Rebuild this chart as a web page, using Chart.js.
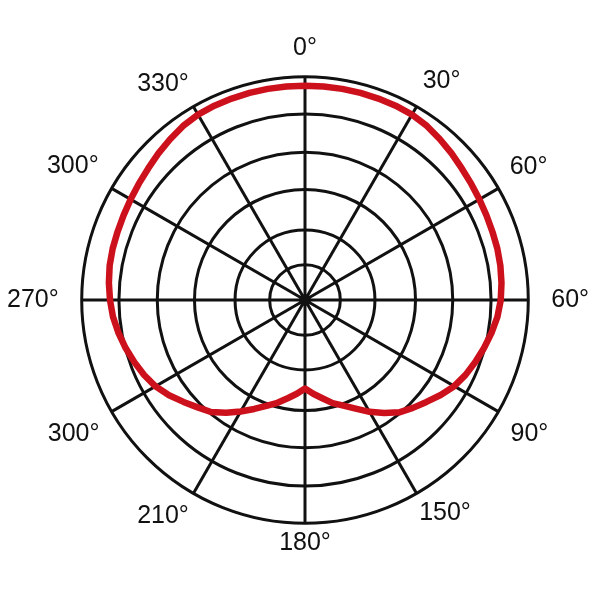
<!DOCTYPE html>
<html>
<head>
<meta charset="utf-8">
<style>
  html, body { margin: 0; padding: 0; background: #ffffff; }
  #wrap { width: 600px; height: 600px; }
</style>
<script src="https://cdn.jsdelivr.net/npm/chart.js@4.4.1/dist/chart.umd.min.js"></script>
</head>
<body>
<div id="wrap"><canvas id="c" width="600" height="600"></canvas></div>
<script>
// Angle categories (degrees, clockwise from top)
const ANGLES = [0,5,10,15,20,25,30,35,40,45,50,55,60,65,70,75,80,85,90,95,100,105,110,115,
  120,125,130,135,140,145,150,155,160,165,170,175,180,185,190,195,200,205,210,215,220,225,230,235,
  240,245,250,255,260,265,270,275,280,285,290,295,300,305,310,315,320,325,330,335,340,345,350,355];

// Polar response (radius in ring units, 6 = outer ring)
const RESPONSE = [5.76,5.76,5.76,5.76,5.76,5.76,5.75,5.71,5.64,5.57,5.50,5.45,5.41,5.38,5.36,5.35,5.33,5.30,
  5.26,5.19,5.09,4.98,4.87,4.76,4.63,4.45,4.26,4.10,3.94,3.71,3.47,3.22,3.02,2.87,2.68,2.53,
  2.38,2.53,2.68,2.86,3.03,3.23,3.46,3.70,3.93,4.08,4.26,4.46,4.64,4.77,4.88,4.99,5.09,5.18,
  5.24,5.29,5.33,5.35,5.36,5.38,5.41,5.45,5.50,5.57,5.64,5.71,5.75,5.76,5.76,5.76,5.76,5.76];

// Tick labels shown every 30 degrees (as printed on the original)
const TICK_LABELS = ["0°","30°","60°","60°","90°","150°","180°","210°","300°","270°","300°","330°"];

// Concentric ring positions
const RING_VALUES = [0, 0.95, 1.88, 2.97, 3.97, 5, 6];

// Center hub
const HUB = ANGLES.map(() => 0);

// Label distances from the outer ring, per tick label
const LABEL_PADS = [14, 12, 13, 23, 14, 5, 5, 9, 14, 23, 15, 9];

const ctx = document.getElementById('c').getContext('2d');
new Chart(ctx, {
  type: 'radar',
  data: {
    labels: ANGLES.map(a => a + '°'),
    datasets: [
      {
        data: RESPONSE,
        borderColor: '#cc111c',
        borderWidth: 6.5,
        borderJoinStyle: 'round',
        backgroundColor: 'rgba(0,0,0,0)',
        fill: false,
        tension: 0,
        pointRadius: 0,
        pointHoverRadius: 0
      },
      {
        data: HUB,
        showLine: false,
        borderWidth: 0,
        fill: false,
        pointRadius: (c) => c.dataIndex === 0 ? 6 : 0,
        pointBackgroundColor: '#111111',
        pointBorderWidth: 0,
        pointHoverRadius: 0
      }
    ]
  },
  options: {
    responsive: false,
    animation: false,
    events: [],
    layout: { padding: { left: 1, right: 3, top: -4, bottom: 8 } },
    plugins: { legend: { display: false }, tooltip: { enabled: false } },
    scales: {
      r: {
        min: 0,
        max: 6,
        startAngle: 0,
        afterBuildTicks: (scale) => {
          scale.ticks = RING_VALUES.map(v => ({ value: v }));
        },
        ticks: { display: false },
        grid: {
          circular: true,
          color: '#111111',
          lineWidth: 3
        },
        angleLines: {
          display: true,
          color: '#111111',
          lineWidth: (c) => (c.index % 6 === 0 ? 3 : 0)
        },
        pointLabels: {
          display: true,
          color: '#111111',
          font: { family: '"Liberation Sans", Arial, sans-serif', size: 25 },
          padding: (c) => (c.index % 6 === 0 ? LABEL_PADS[c.index / 6] : 0),
          callback: (label, index) => (index % 6 === 0 ? TICK_LABELS[index / 6] : [])
        }
      }
    }
  }
});
</script>
</body>
</html>
